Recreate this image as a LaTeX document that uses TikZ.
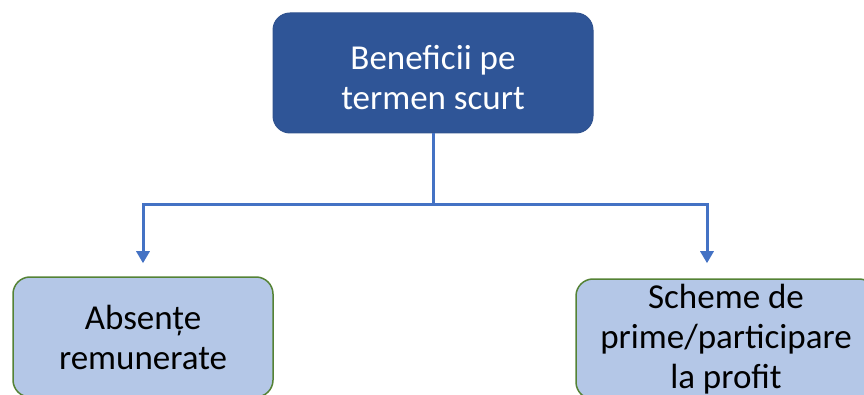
\documentclass[tikz,border=0pt]{standalone}
\usepackage{fontspec}
\setmainfont{Carlito}
\usetikzlibrary{arrows.meta}
\definecolor{topblue}{HTML}{2F5597}
\definecolor{topline}{HTML}{2F528F}
\definecolor{leafblue}{HTML}{B4C7E7}
\definecolor{leafline}{HTML}{548235}
\definecolor{linkblue}{HTML}{4472C4}
\tikzset{
  box/.style={rectangle,rounded corners=17pt,align=center,inner sep=0pt,
    font=\fontsize{35}{40}\selectfont},
  rootbox/.style={box,fill=topblue,draw=topline,line width=1pt,text=white,
    minimum width=320pt,minimum height=120pt},
  leafbox/.style={box,fill=leafblue,draw=leafline,line width=1.5pt,text=black,
    minimum height=120pt},
  link/.style={draw=linkblue,line width=3pt},
  tip/.style={-{Triangle[width=13pt,length=12pt]}}
}
\begin{document}
\begin{tikzpicture}[x=1pt,y=-1pt]
  \path[use as bounding box,clip] (0,0) rectangle (864,395);
  \node[rootbox] (root) at (433,73) {\raisebox{-9pt}[\height][\depth]{\begin{tabular}{@{}c@{}}Beneficii pe\\termen scurt\end{tabular}}};
  \node[leafbox,minimum width=260pt] (absente) at (143,337) {Absențe\\remunerate};
  \node[leafbox,minimum width=300pt] (scheme) at (726,339) {Scheme de\\prime/participare\\la profit};

  \path[link] (root.south) -- ++(0,71) coordinate (split);
  \path[link,tip] (split) -| ([yshift=13pt]absente.north);
  \path[link,tip] (split) -| ([xshift=-19pt,yshift=15pt]scheme.north);
\end{tikzpicture}
\end{document}
